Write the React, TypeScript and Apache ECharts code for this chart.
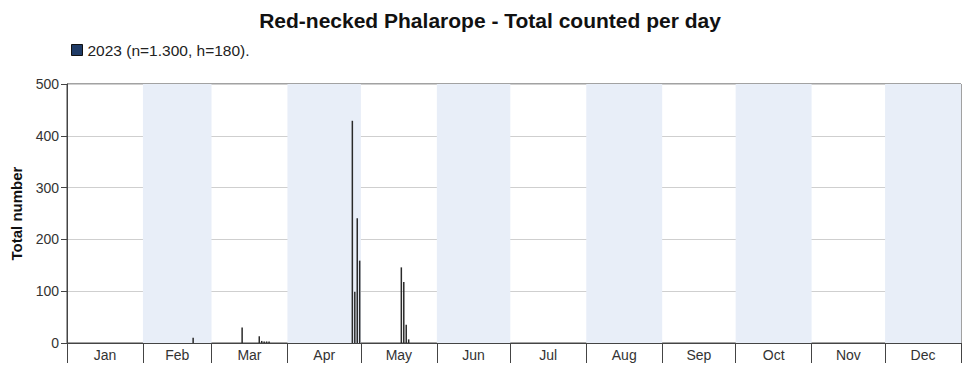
import React, { useEffect, useRef } from "react";
import * as echarts from "echarts";

const TITLE = "Red-necked Phalarope - Total counted per day";
const SERIES_NAME = "2023 (n=1.300, h=180).";
const MONTHS = ["Jan", "Feb", "Mar", "Apr", "May", "Jun", "Jul", "Aug", "Sep", "Oct", "Nov", "Dec"];
const MONTH_DAYS = [31, 28, 31, 30, 31, 30, 31, 31, 30, 31, 30, 31];
// observation dates (month, day) and counts
const OBS_MONTH = [2, 3, 3, 3, 3, 3, 3, 4, 4, 4, 4, 5, 5, 5, 5];
const OBS_DAY = [21, 13, 20, 21, 22, 23, 24, 27, 28, 29, 30, 17, 18, 19, 20];
const OBS_COUNT = [10, 30, 13, 4, 3, 3, 3, 429, 99, 241, 159, 146, 118, 35, 7];
const Y_TICKS = [0, 100, 200, 300, 400, 500];

const monthStarts: number[] = [0];
MONTH_DAYS.forEach((d, i) => monthStarts.push(monthStarts[i] + d));
const monthMids = MONTH_DAYS.map((d, i) => monthStarts[i] + d / 2);

export default function App() {
  const ref = useRef<HTMLDivElement>(null);
  useEffect(() => {
    document.body.style.margin = "0";
    const chart = echarts.init(ref.current!, null, { renderer: "svg" });
    const font = "Arial, 'Liberation Sans', sans-serif";
    const data = OBS_MONTH.map((m, i) => [monthStarts[m - 1] + OBS_DAY[i] - 1 + 0.5, OBS_COUNT[i]]);
    const bands = MONTHS.map((_, i) => i)
      .filter((i) => i % 2 === 1)
      .map((i) => [{ xAxis: monthStarts[i] }, { xAxis: monthStarts[i + 1] }]);
    chart.setOption({
      animation: false,
      textStyle: { fontFamily: font },
      title: {
        text: TITLE,
        left: "center",
        top: 5,
        textStyle: { fontFamily: font, fontSize: 21, fontWeight: "bold", color: "#111" },
      },
      legend: {
        left: 66,
        top: 37,
        itemWidth: 11,
        itemHeight: 11,
        icon: "rect",
        textStyle: { fontFamily: font, fontSize: 15.5, color: "#222" },
        data: [
          {
            name: SERIES_NAME,
            itemStyle: { color: "#1f3b66", borderColor: "#111", borderWidth: 1 },
          },
        ],
      },
      grid: {
        left: 67,
        right: 19,
        top: 84,
        bottom: 35,
        show: true,
        borderColor: "#444",
        borderWidth: 1,
        backgroundColor: "transparent",
      },
      xAxis: {
        type: "value",
        min: 0,
        max: 365,
        splitLine: { show: false },
        axisLine: { lineStyle: { color: "#444", width: 1 } },
        axisTick: {
          show: true,
          length: 20,
          customValues: monthStarts,
          lineStyle: { color: "#444", width: 1 },
        },
        axisLabel: {
          customValues: monthMids,
          margin: 5,
          fontSize: 14,
          color: "#333",
          fontFamily: font,
          formatter: (v: number) => {
            const idx = monthMids.findIndex((m) => Math.abs(m - v) < 0.01);
            return idx >= 0 ? MONTHS[idx] : "";
          },
        },
      },
      yAxis: {
        type: "value",
        min: Y_TICKS[0],
        max: Y_TICKS[Y_TICKS.length - 1],
        interval: 100,
        name: "Total number",
        nameLocation: "middle",
        nameGap: 43,
        nameTextStyle: { fontFamily: font, fontSize: 15, fontWeight: "bold", color: "#111" },
        axisLine: { show: true, lineStyle: { color: "#444", width: 1 } },
        axisTick: { show: true, length: 6, lineStyle: { color: "#444" } },
        axisLabel: { margin: 8, fontSize: 14, color: "#333", fontFamily: font },
        splitLine: { lineStyle: { color: "#cfcfcf", width: 1 } },
      },
      series: [
        {
          name: SERIES_NAME,
          type: "bar",
          barWidth: 1.5,
          itemStyle: { color: "#2a2a2a" },
          data,
          z: 3,
          markArea: {
            silent: true,
            itemStyle: { color: "#e8eef8" },
            data: bands,
          },
        },
      ],
    });
    return () => chart.dispose();
  }, []);
  return <div ref={ref} style={{ width: 980, height: 378 }} />;
}
